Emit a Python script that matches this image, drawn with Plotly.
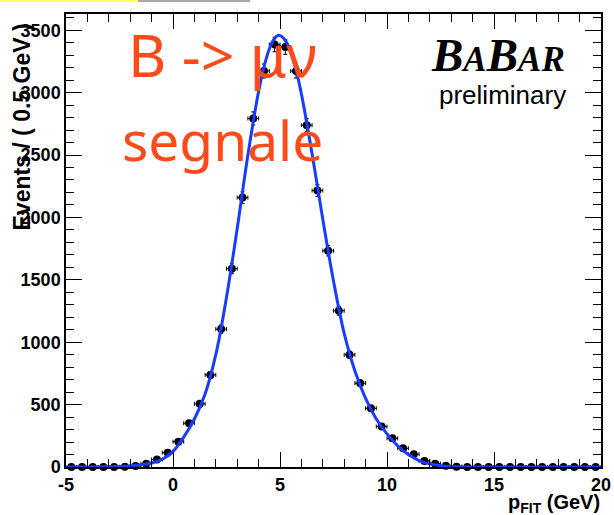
import numpy as np
import plotly.graph_objects as go

# Binned signal sample: bin centres (GeV) and event counts per 0.5 GeV bin
bin_centers = [-4.75, -4.25, -3.75, -3.25, -2.75, -2.25, -1.75, -1.25, -0.75, -0.25,
               0.25, 0.75, 1.25, 1.75, 2.25, 2.75, 3.25, 3.75, 4.25, 4.75,
               5.25, 5.75, 6.25, 6.75, 7.25, 7.75, 8.25, 8.75, 9.25, 9.75,
               10.25, 10.75, 11.25, 11.75, 12.25, 12.75, 13.25, 13.75, 14.25, 14.75,
               15.25, 15.75, 16.25, 16.75, 17.25, 17.75, 18.25, 18.75, 19.25, 19.75]
events = [0, 0, 0, 0, 0, 2, 8, 27, 60, 115,
          203, 351, 506, 738, 1105, 1589, 2159, 2793, 3173, 3385,
          3365, 3173, 2739, 2215, 1733, 1252, 899, 672, 471, 324,
          230, 150, 102, 48, 27, 10, 3, 1, 0, 0,
          0, 0, 0, 0, 0, 0, 0, 0, 0, 0]
bin_half_width = 0.25

# Fitted PDF, sampled along p_FIT
fit_x = [-5, -4, -3.5, -3, -2.5, -2, -1.5, -1, -0.5, 0, 0.5, 1, 1.5, 2, 2.5, 3, 3.5,
         4, 4.25, 4.5, 4.75, 4.95, 5.25, 5.5, 5.75, 6, 6.5, 7, 7.5, 8, 8.5, 9, 9.5,
         10, 10.5, 11, 11.5, 12, 12.5, 13, 13.5, 14, 16, 20]
fit_y = [0, 0, 1, 2, 4, 9, 18, 32, 62, 125, 240, 385, 585, 900, 1360, 1910, 2500,
         3010, 3205, 3350, 3435, 3459, 3418, 3325, 3180, 2990, 2510, 1985, 1490, 1070, 770, 550, 385,
         265, 170, 100, 52, 25, 11, 4, 1, 0, 0, 0]

x_ticks = [-5, 0, 5, 10, 15, 20]
y_ticks = [0, 500, 1000, 1500, 2000, 2500, 3000, 3500]

W_PX, H_PX = 614, 515
L, R, T, B = 66, 13, 14, 48
PW, PH = W_PX - L - R, H_PX - T - B


def fx(px):
    return (px - L) / PW


def fy(py):
    return (T + PH - py) / PH


fig = go.Figure()

fig.add_trace(go.Scatter(
    x=bin_centers, y=events, mode="markers",
    marker=dict(color="black", size=8),
    error_x=dict(type="constant", value=bin_half_width, color="black", thickness=1, width=2),
    error_y=dict(type="data", array=list(np.sqrt(events)), color="black", thickness=1, width=2),
    cliponaxis=False, showlegend=False,
))

fig.add_trace(go.Scatter(
    x=fit_x, y=fit_y, mode="lines",
    line=dict(color="rgb(25,60,255)", width=3, shape="spline", smoothing=1.0),
    showlegend=False,
))

tick_font = dict(family="Liberation Sans, Arial", size=18, color="black", weight="bold")

fig.update_xaxes(
    range=[-5, 20], tickvals=x_ticks, ticktext=[str(v) for v in x_ticks],
    ticks="inside", ticklen=15, tickwidth=1, tickcolor="black",
    minor=dict(dtick=1, ticks="inside", ticklen=8, tickwidth=1, tickcolor="black"),
    showline=True, linecolor="black", linewidth=2, mirror="ticks",
    showgrid=False, zeroline=False, tickfont=tick_font, automargin=False,
)
fig.update_yaxes(
    range=[0, 3630], tickvals=y_ticks, ticktext=[str(v) for v in y_ticks],
    ticks="inside", ticklen=16, tickwidth=1, tickcolor="black",
    minor=dict(dtick=100, ticks="inside", ticklen=8, tickwidth=1, tickcolor="black"),
    showline=True, linecolor="black", linewidth=1.5, mirror="ticks",
    showgrid=False, zeroline=False, tickfont=tick_font, automargin=False,
)

annotations = [
    # y-axis title
    dict(text="<b>Events / ( 0.5 GeV )</b>", textangle=-90, xref="paper", yref="paper",
         x=fx(21), y=fy(233), xanchor="center", yanchor="bottom", showarrow=False,
         font=dict(family="Liberation Sans, Arial", size=23, color="black")),
    # x-axis title
    dict(text="<b>p<sub>FIT</sub> (GeV)</b>", xref="paper", yref="paper",
         x=fx(602), y=fy(503), xanchor="right", yanchor="middle", showarrow=False,
         font=dict(family="Liberation Sans, Arial", size=20, color="black")),
    # handwritten-style labels
    dict(text="B -> μν", xref="paper", yref="paper", x=fx(126), y=fy(54),
         xanchor="left", yanchor="middle", showarrow=False,
         font=dict(family="Noto Sans", size=59, color="#ff4a1c")),
    dict(text="segnale", xref="paper", yref="paper", x=fx(120), y=fy(139),
         xanchor="left", yanchor="middle", showarrow=False,
         font=dict(family="Noto Sans", size=55, color="#ff4a1c")),
    # experiment logo
    dict(text="<b><i>B<span style='font-size:35px'>A</span>B<span style='font-size:35px'>AR</span></i></b>",
         xref="paper", yref="paper", x=fx(567), y=fy(55),
         xanchor="right", yanchor="middle", showarrow=False,
         font=dict(family="Liberation Serif, Times New Roman", size=47, color="black")),
    dict(text="preliminary", xref="paper", yref="paper", x=fx(568), y=fy(95),
         xanchor="right", yanchor="middle", showarrow=False,
         font=dict(family="Liberation Sans, Arial", size=26, color="black")),
]

shapes = [
    dict(type="rect", xref="paper", yref="paper", x0=fx(0), x1=fx(138), y0=fy(2), y1=fy(0),
         fillcolor="#ffff66", line=dict(width=0)),
    dict(type="rect", xref="paper", yref="paper", x0=fx(138), x1=fx(250), y0=fy(2), y1=fy(0),
         fillcolor="#a8a8a8", line=dict(width=0)),
]

fig.update_layout(
    width=W_PX, height=H_PX,
    margin=dict(l=L, r=R, t=T, b=B),
    plot_bgcolor="white", paper_bgcolor="white",
    annotations=annotations, shapes=shapes,
)

fig.write_html("out.html")
